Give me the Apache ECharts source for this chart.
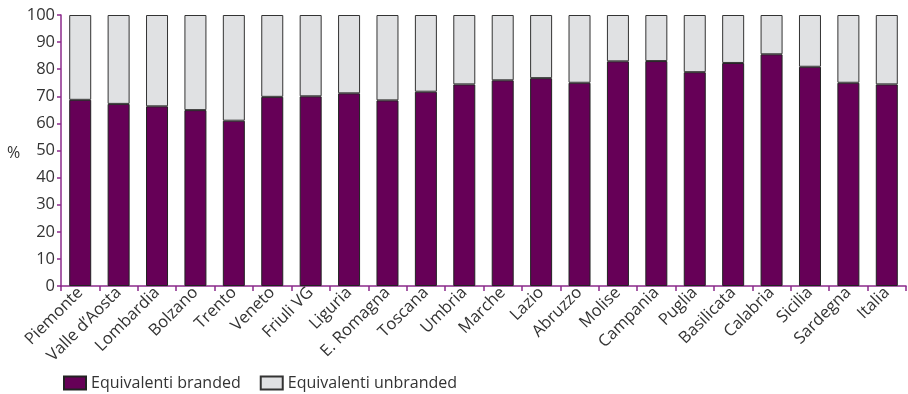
<!DOCTYPE html>
<html><head><meta charset="utf-8">
<script src="https://cdn.jsdelivr.net/npm/echarts@6/dist/echarts.min.js"></script>
<style>html,body{margin:0;padding:0;background:#fff}#c{width:908px;height:394px}</style>
</head><body><div id="c"></div>
<script>
const categories = ["Piemonte","Valle d’Aosta","Lombardia","Bolzano","Trento","Veneto","Friuli VG","Liguria","E. Romagna","Toscana","Umbria","Marche","Lazio","Abruzzo","Molise","Campania","Puglia","Basilicata","Calabria","Sicilia","Sardegna","Italia"];
const branded = [68.7,67.2,66.3,64.9,61.0,69.8,70.0,71.1,68.5,71.7,74.4,75.9,76.7,75.0,82.9,83.0,78.9,82.3,85.5,80.9,75.0,74.4];
const unbranded = [31.3,32.8,33.7,35.1,39.0,30.2,30.0,28.9,31.5,28.3,25.6,24.1,23.3,25.0,17.1,17.0,21.1,17.7,14.5,19.1,25.0,25.6];
const yTicks = [0,10,20,30,40,50,60,70,80,90,100];
const FONT = "Open Sans";
const axisColor = "#8b2a8b";
const chart = echarts.init(document.getElementById('c'));
chart.setOption({
  animation:false,
  textStyle:{fontFamily:FONT},
  grid:{left:61,right:2,top:15,bottom:108,containLabel:false},
  legend:{left:58,top:372,padding:[3,5,0,5],itemWidth:22,itemHeight:13,itemGap:19,icon:'rect',
    textStyle:{fontFamily:FONT,fontSize:16,color:'#333'},
    data:['Equivalenti branded','Equivalenti unbranded']},
  graphic:[{type:'text',left:7,top:145,style:{text:'%',font:'16px "Open Sans"',fill:'#333'}}],
  xAxis:{type:'category',data:categories,
    axisLine:{lineStyle:{color:axisColor,width:1.5}},
    axisTick:{show:true,alignWithLabel:false,length:5,lineStyle:{color:axisColor,width:1.5}},
    axisLabel:{rotate:45,fontSize:16.5,color:'#333',margin:4,fontFamily:FONT,interval:0}},
  yAxis:{type:'value',min:0,max:100,interval:10,
    axisLine:{show:true,lineStyle:{color:axisColor,width:1.5}},
    axisTick:{show:true,length:4,lineStyle:{color:axisColor,width:1.5}},
    splitLine:{show:false},
    axisLabel:{fontSize:16.5,color:'#333',margin:6,fontFamily:FONT,
      formatter:v=>yTicks.includes(v)?String(v):''}},
  series:[
    {name:'Equivalenti branded',type:'bar',stack:'a',data:branded,barWidth:22,
      itemStyle:{color:'#660057',borderColor:'#222',borderWidth:1}},
    {name:'Equivalenti unbranded',type:'bar',stack:'a',data:unbranded,barWidth:22,
      itemStyle:{color:'#e0e1e3',borderColor:'#333',borderWidth:1}}
  ]
});
</script></body></html>
